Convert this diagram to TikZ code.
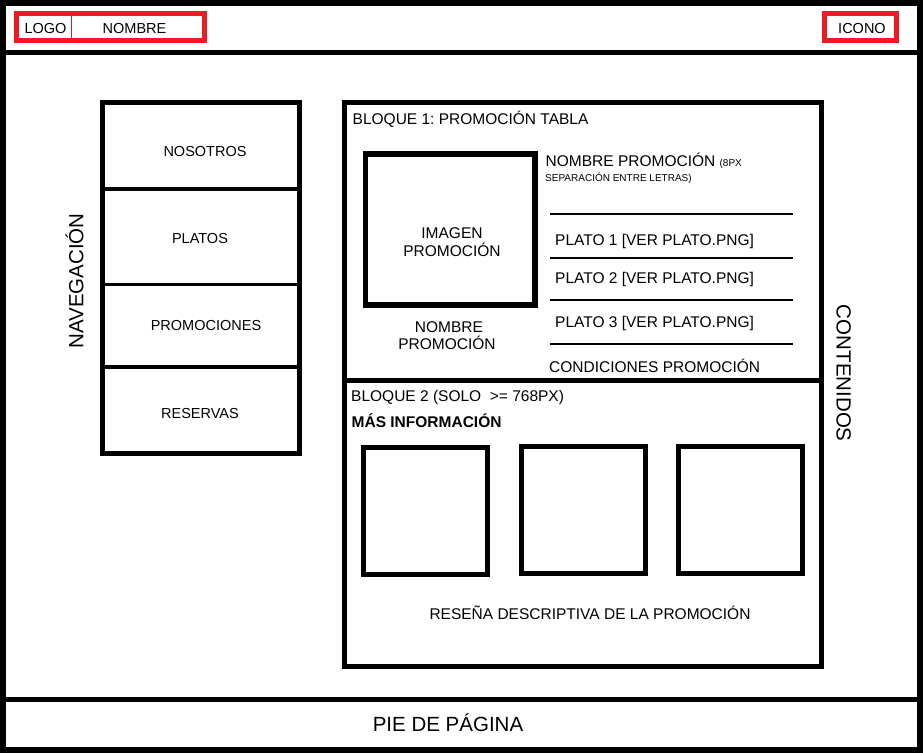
\documentclass[tikz,border=0pt]{standalone}
\usepackage{fontspec}
\setmainfont{Liberation Sans}
\definecolor{hdrred}{HTML}{ED1C24}
\frenchspacing
\begin{document}
\begin{tikzpicture}[x=1pt,y=-1pt,
  box/.style={draw=black, line width=5pt},
  imgbox/.style={draw=black, line width=5.5pt},
  navsep/.style={draw=black, line width=3.5pt},
  rule/.style={draw=black, line width=1.3pt},
  redbox/.style={draw=hdrred, line width=4.5pt},
  txt/.style={inner sep=0pt, font=\fontsize{15.5}{18}\selectfont},
  smalltxt/.style={inner sep=0pt, font=\fontsize{14.5}{17}\selectfont},
  tinytxt/.style={inner sep=0pt, font=\fontsize{10}{12}\selectfont},
  bigtxt/.style={inner sep=0pt, font=\fontsize{20.5}{24}\selectfont},
]
\useasboundingbox (0,0) rectangle (923,753);
\fill[white] (0,0) rectangle (923,753);

% page frame with header and footer bands
\draw[line width=6pt] (3,3) rectangle (920,750);
\draw[line width=5pt] (0,52.5) -- (923,52.5);
\draw[line width=5pt] (0,699.5) -- (923,699.5);

% header
\draw[redbox] (16.5,13.5) rectangle (204.5,40.5);
\draw[hdrred, line width=1pt] (71,13.5) -- (71,40.5);
\node[smalltxt, anchor=base] (logo) at (45.5,33.3) {LOGO};
\node[smalltxt, anchor=base] (nombre) at (134.5,33.3) {NOMBRE};
\draw[redbox] (824.5,13.5) rectangle (896.5,40.5);
\node[smalltxt, anchor=base] (icono) at (862,33.3) {ICONO};

% navigation column
\draw[box] (102.5,102.5) rectangle (299.5,453.5);
\draw[navsep] (102.5,189) -- (299.5,189);
\draw[navsep] (102.5,284.3) -- (299.5,284.3);
\draw[navsep] (102.5,367) -- (299.5,367);
\node[smalltxt, anchor=base] (nosotros) at (205,156) {NOSOTROS};
\node[smalltxt, anchor=base] (platos) at (200,243.3) {PLATOS};
\node[smalltxt, anchor=base] (promos) at (206,330.7) {PROMOCIONES};
\node[smalltxt, anchor=base] (reservas) at (200,418.3) {RESERVAS};
\node[bigtxt, anchor=base, rotate=90] (nav) at (83.3,281) {NAVEGACIÓN};

% contents label
\node[bigtxt, anchor=base, rotate=-90] (cont) at (836.7,373.3) {CONTENIDOS};

% block 1
\draw[box] (344.5,102.5) rectangle (821,380.5);
\node[txt, anchor=base west] (b1title) at (352.5,124) {BLOQUE 1: PROMOCIÓN TABLA};
\draw[imgbox] (365.5,154) rectangle (535,305);
\node[txt, anchor=base] (img1) at (452,238) {IMAGEN};
\node[txt, anchor=base] (img2) at (452,256) {PROMOCIÓN};
\node[txt, anchor=base] (nom1) at (449,332) {NOMBRE};
\node[txt, anchor=base] (nom2) at (447,349.3) {PROMOCIÓN};
\node[txt, anchor=base west] (promname) at (545.5,166.5)
  {NOMBRE PROMOCIÓN {\fontsize{10}{12}\selectfont(8PX}};
\node[tinytxt, anchor=base west] (promnote) at (545,181) {SEPARACIÓN ENTRE LETRAS)};
\draw[rule] (549.5,214) -- (793,214);
\draw[rule] (549.5,258) -- (793,258);
\draw[rule] (549.5,300) -- (793,300);
\draw[rule] (549.5,344) -- (793,344);
\node[txt, anchor=base west] (plato1) at (555,245) {PLATO 1 [VER PLATO.PNG]};
\node[txt, anchor=base west] (plato2) at (555,283.3) {PLATO 2 [VER PLATO.PNG]};
\node[txt, anchor=base west] (plato3) at (555,327.3) {PLATO 3 [VER PLATO.PNG]};
\node[txt, anchor=base west] (cond) at (549,372.3) {CONDICIONES PROMOCIÓN};

% block 2
\draw[box] (344.5,380.5) rectangle (821,666);
\node[txt, anchor=base west] (b2title) at (351,401) {BLOQUE 2 (SOLO \ {>}= 768PX)};
\node[txt, anchor=base west, font=\fontsize{15.5}{18}\selectfont\bfseries] (mas) at (351.5,427) {MÁS INFORMACIÓN};
\draw[box] (363.5,447.5) rectangle (487.5,574.5);
\draw[box] (521.5,446.5) rectangle (645.5,573.5);
\draw[box] (678.5,446.5) rectangle (802.5,573.5);
\node[txt, anchor=base] (resena) at (590,619.3) {RESEÑA DESCRIPTIVA DE LA PROMOCIÓN};

% footer
\node[bigtxt, anchor=base] (pie) at (448,731) {PIE DE PÁGINA};
\end{tikzpicture}
\end{document}
